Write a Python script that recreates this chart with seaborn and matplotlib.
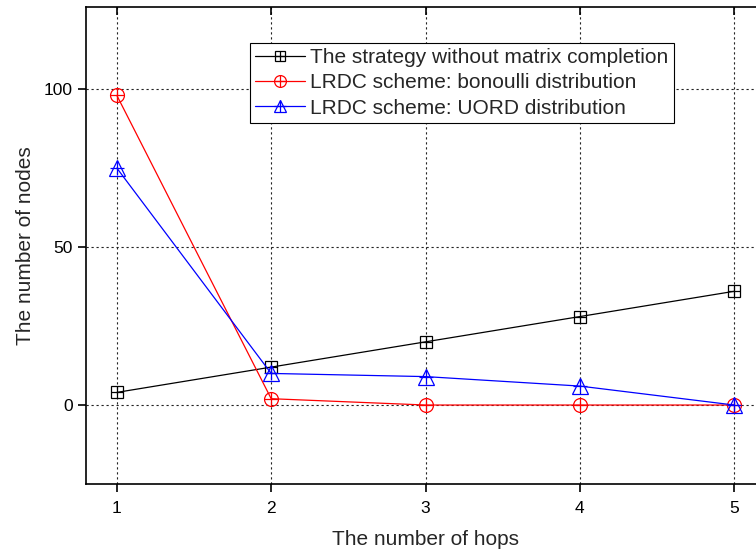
import numpy as np
import pandas as pd
import seaborn as sns
import matplotlib
matplotlib.use("Agg")
import matplotlib.pyplot as plt
from matplotlib.lines import Line2D
from matplotlib.legend_handler import HandlerTuple
from matplotlib import markers as mmarkers

hops = [1, 2, 3, 4, 5]
without_mc = [4, 12, 20, 28, 36]
bonoulli = [98, 2, 0, 0, 0]
uord = [75, 10, 9, 6, 0]
labels = ["The strategy without matrix completion",
          "LRDC scheme: bonoulli distribution",
          "LRDC scheme: UORD distribution"]

sns.set_style("white")
plt.rcParams['font.family'] = ['Liberation Sans', 'DejaVu Sans']

fig = plt.figure(figsize=(7.56, 5.51), dpi=100)
ax = fig.add_axes([86/756, 1-484/551, 679/756, 477/551])

series = [(without_mc, 'black', 's', 8.5), (bonoulli, 'red', 'o', 10), (uord, 'blue', '^', 11)]
handles = []
for (vals, col, mk, ms), lab in zip(series, labels):
    df = pd.DataFrame({'x': hops, 'y': vals})
    sns.lineplot(data=df, x='x', y='y', ax=ax, color=col, linewidth=0.9,
                 marker=mk, markersize=ms, markerfacecolor='none',
                 markeredgecolor=col, markeredgewidth=0.9)
    sns.lineplot(data=df, x='x', y='y', ax=ax, color=col, linewidth=0,
                 marker='+', markersize=ms*0.95, markeredgecolor=col,
                 markeredgewidth=0.9)
    h1 = Line2D([], [], color=col, linewidth=0.9, marker=mk, markersize=ms*0.85,
                markerfacecolor='none', markeredgecolor=col, markeredgewidth=0.9)
    h2 = Line2D([], [], color=col, linewidth=0, marker='+', markersize=ms*0.8,
                markeredgecolor=col, markeredgewidth=0.9)
    handles.append((h1, h2))

ax.set_xlim(0.8, 5.2)
ax.set_ylim(-25, 126)
ax.set_xticks(hops)
ax.set_yticks([0, 50, 100])
ax.grid(True, color='#222222', linestyle=(0, (2, 2.5)), linewidth=0.8)
for s in ax.spines.values():
    s.set_color('black')
    s.set_linewidth(1.2)
ax.tick_params(axis='both', which='both', direction='out', length=6, width=1.2,
               labelsize=12.5, color='black', labelcolor='black', left=True, bottom=True)
ax.tick_params(axis='x', top=True, pad=6)
ax.tick_params(axis='y', right=True)
for t in ax.xaxis.get_major_ticks():
    t.tick2line.set_marker(mmarkers.TICKDOWN)
ax.set_xlabel("The number of hops", fontsize=15, labelpad=10)
ax.set_ylabel("The number of nodes", fontsize=15, labelpad=6)

leg = ax.legend(handles, labels, handler_map={tuple: HandlerTuple(ndivide=1)},
                loc='upper left', bbox_to_anchor=((250-86)/679, (484-43)/477),
                fontsize=15, frameon=True, fancybox=False, framealpha=1,
                edgecolor='black', borderpad=0.25, labelspacing=0.3,
                handlelength=2.4, handletextpad=0.25, borderaxespad=0)
leg.get_frame().set_linewidth(0.8)

fig.savefig("out.png", dpi=100)
